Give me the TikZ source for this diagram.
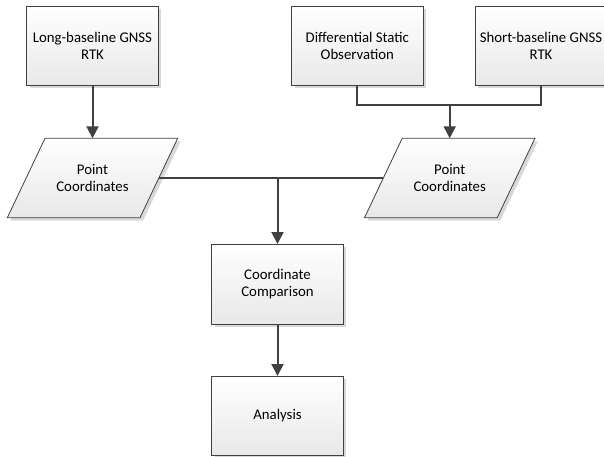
\documentclass[tikz,border=0pt]{standalone}
\usepackage{fontspec}
\setmainfont{Carlito}
\usetikzlibrary{arrows.meta,shadows,calc}
\definecolor{lc}{HTML}{404040}
\tikzset{
  boxstyle/.style={draw=lc, line width=0.8pt, top color=white, bottom color=black!9,
    drop shadow={shadow xshift=3pt, shadow yshift=-3pt, fill=black!30, opacity=0.5},
    minimum width=131.6pt, minimum height=79pt, inner sep=2pt, outer sep=0pt,
    align=center, font=\fontsize{14.8}{17}\selectfont, text=black},
  ptext/.style={minimum width=132.7pt, minimum height=79.4pt, inner sep=2pt, outer sep=0pt,
    align=center, font=\fontsize{14.8}{17}\selectfont, text=black},
  pshape/.style={draw=lc, line width=0.8pt, top color=white, bottom color=black!9,
    drop shadow={shadow xshift=3pt, shadow yshift=-3pt, fill=black!30, opacity=0.5}},
  conn/.style={draw=lc, line width=2pt},
  arr/.style={conn, -{Triangle[length=12pt,width=12pt]}}
}
\begin{document}
\begin{tikzpicture}[x=1pt,y=-1pt]
\clip (0,0) rectangle (604,457);
\useasboundingbox (0,0) rectangle (604,457);
% boxes
\node[boxstyle] (b1) at (92.5,45.5) {Long-baseline GNSS\\RTK};
\node[boxstyle] (b2) at (357.3,46) {Differential Static\\Observation};
\node[boxstyle] (b3) at (541,46) {Short-baseline GNSS\\RTK};
% parallelograms
\coordinate (p1c) at (92.5,178);
\coordinate (p2c) at (449.7,178);
\path[pshape] ($(p1c)+(-47.5,-39.7)$) -- ($(p1c)+(85.2,-39.7)$) -- ($(p1c)+(47.5,39.7)$) -- ($(p1c)+(-85.2,39.7)$) -- cycle;
\path[pshape] ($(p2c)+(-47.5,-39.7)$) -- ($(p2c)+(85.2,-39.7)$) -- ($(p2c)+(47.5,39.7)$) -- ($(p2c)+(-85.2,39.7)$) -- cycle;
\node[ptext] (p1) at (p1c) {Point\\Coordinates};
\node[ptext] (p2) at (p2c) {Point\\Coordinates};
\node[boxstyle, minimum height=80pt] (b4) at (277.5,284) {Coordinate\\Comparison};
\node[boxstyle] (b5) at (277.5,415.5) {Analysis};
% connectors
\coordinate (jn) at (449.7,105);
\draw[arr] (b1.south) -- (p1.north);
\draw[conn] (b2.south) |- (jn) -| (b3.south);
\draw[arr] (jn) -- (p2.north);
\draw[conn] (p1.east) -- (p2.west);
\draw[arr] (p1.east -| b4.north) -- (b4.north);
\draw[arr] (b4.south) -- (b5.north);
\end{tikzpicture}
\end{document}
